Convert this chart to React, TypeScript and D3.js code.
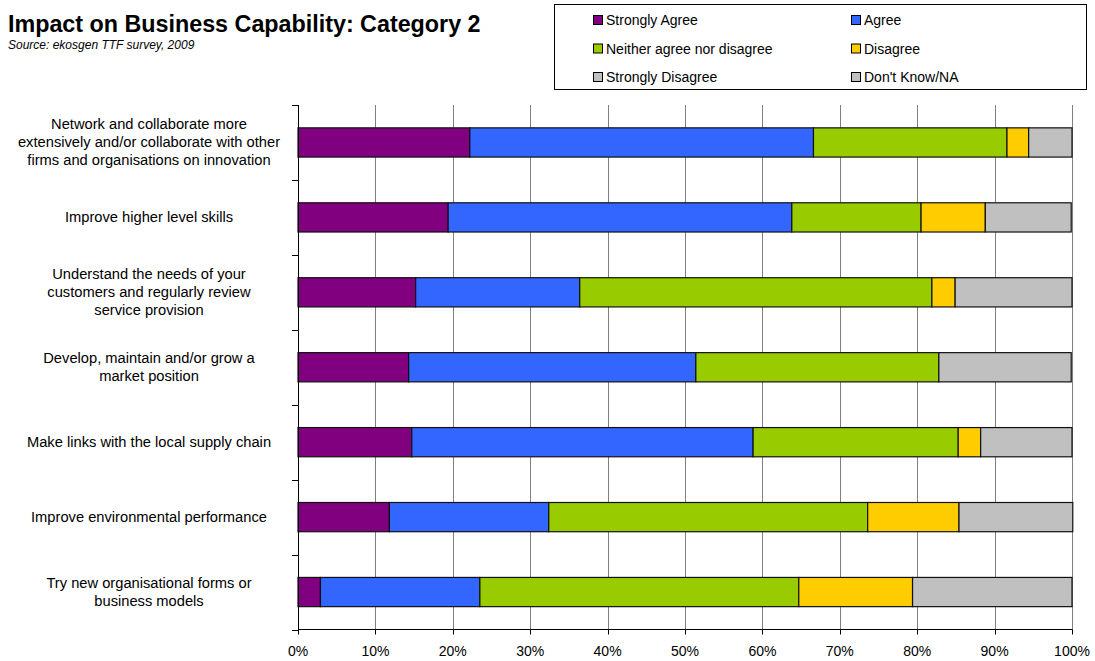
import React from "react";
import * as d3 from "d3";

const categories = [
  ["Network and collaborate more", "extensively and/or collaborate with other", "firms and organisations on innovation"],
  ["Improve higher level skills"],
  ["Understand the needs of your", "customers and regularly review", "service provision"],
  ["Develop, maintain and/or grow a", "market position"],
  ["Make links with the local supply chain"],
  ["Improve environmental performance"],
  ["Try new organisational forms or", "business models"],
];

const seriesNames = ["Strongly Agree", "Agree", "Neither agree nor disagree", "Disagree", "Strongly Disagree", "Don't Know/NA"];
const seriesColors = ["#800080", "#3366FF", "#99CC00", "#FFCC00", "#C0C0C0", "#C0C0C0"];

const stronglyAgree = [22.2, 19.4, 15.2, 14.3, 14.7, 11.8, 2.9];
const agree = [44.4, 44.4, 21.2, 37.1, 44.1, 20.6, 20.6];
const neither = [25.0, 16.7, 45.5, 31.4, 26.5, 41.2, 41.2];
const disagree = [2.8, 8.3, 3.0, 0, 2.9, 11.8, 14.7];
const stronglyDisagree = [0, 0, 0, 0, 0, 0, 0];
const dontKnow = [5.6, 11.1, 15.1, 17.1, 11.8, 14.7, 20.6];

const xTicks = [0, 10, 20, 30, 40, 50, 60, 70, 80, 90, 100];

export default function App() {
  const W = 1095, H = 661;
  const left = 298, right = 1072, top = 105, bottom = 629.5;
  const x = d3.scaleLinear().domain([0, 100]).range([left, right]);
  const y = d3.scaleBand<number>().domain(d3.range(categories.length)).range([top, bottom]).paddingInner(0.61).paddingOuter(0.305);
  const yOuter = d3.scaleBand<number>().domain(d3.range(categories.length)).range([top, bottom]);
  const series = [stronglyAgree, agree, neither, disagree, stronglyDisagree, dontKnow];
  const rows = categories.map((_, i) => {
    const o: any = {};
    seriesNames.forEach((n, s) => (o[n] = series[s][i]));
    return o;
  });
  const stacked = d3.stack().keys(seriesNames)(rows);
  const font = "Arial, 'Liberation Sans', sans-serif";

  const legendItems = seriesNames.map((n, i) => ({
    n,
    c: seriesColors[i],
    col: i % 2,
    row: Math.floor(i / 2),
  }));

  return (
    <svg width={W} height={H} style={{ position: "absolute", left: 0, top: 0, background: "#fff" }} fontFamily={font}>
      <rect x={0} y={0} width={W} height={H} fill="#fff" />
      <text x={8} y={32} fontSize={23.3} fontWeight="bold">Impact on Business Capability: Category 2</text>
      <text x={8} y={49} fontSize={12} fontStyle="italic">Source: ekosgen TTF survey, 2009</text>

      <rect x={554.5} y={4.5} width={532} height={85} fill="#fff" stroke="#000" strokeWidth={1} />
      {legendItems.map((d) => {
        const lx = d.col === 0 ? 593 : 851;
        const ly = 20 + d.row * 28.5;
        return (
          <g key={d.n}>
            <rect x={lx + 0.5} y={ly - 4.5} width={9} height={9} fill={d.c} stroke="#000" strokeWidth={1} />
            <text x={lx + 13} y={ly + 5} fontSize={14}>{d.n}</text>
          </g>
        );
      })}

      {xTicks.slice(1).map((t) => (
        <line key={t} x1={Math.round(x(t)) + 0.5} x2={Math.round(x(t)) + 0.5} y1={top} y2={bottom} stroke="#808080" strokeWidth={1} />
      ))}

      {stacked.map((s, si) =>
        s.map((d, i) =>
          d[1] - d[0] > 0 ? (
            <rect
              key={si + "-" + i}
              x={x(d[0])}
              y={y(i)!}
              width={x(d[1]) - x(d[0])}
              height={y.bandwidth()}
              fill={seriesColors[si]}
              stroke="#111"
              strokeWidth={1.2}
            />
          ) : null
        )
      )}

      <line x1={left + 0.5} x2={left + 0.5} y1={top} y2={bottom} stroke="#000" />
      <line x1={left} x2={right + 0.5} y1={bottom} y2={bottom} stroke="#000" />
      {d3.range(categories.length + 1).map((i) => {
        const yy = i < categories.length ? yOuter(i)! : bottom;
        return <line key={i} x1={left - 6} x2={left} y1={Math.round(yy) + 0.5} y2={Math.round(yy) + 0.5} stroke="#000" />;
      })}
      {xTicks.map((t) => (
        <g key={t}>
          <line x1={Math.round(x(t)) + 0.5} x2={Math.round(x(t)) + 0.5} y1={bottom} y2={bottom + 5} stroke="#000" />
          <text x={x(t)} y={656} fontSize={14} textAnchor="middle">{t + "%"}</text>
        </g>
      ))}

      {categories.map((lines, i) => {
        const cy = y(i)! + y.bandwidth() / 2;
        const lh = 18;
        const start = cy - ((lines.length - 1) * lh) / 2;
        return (
          <text key={i} fontSize={14.7} textAnchor="middle">
            {lines.map((l, j) => (
              <tspan key={j} x={149} y={start + j * lh + 5}>{l}</tspan>
            ))}
          </text>
        );
      })}
    </svg>
  );
}
